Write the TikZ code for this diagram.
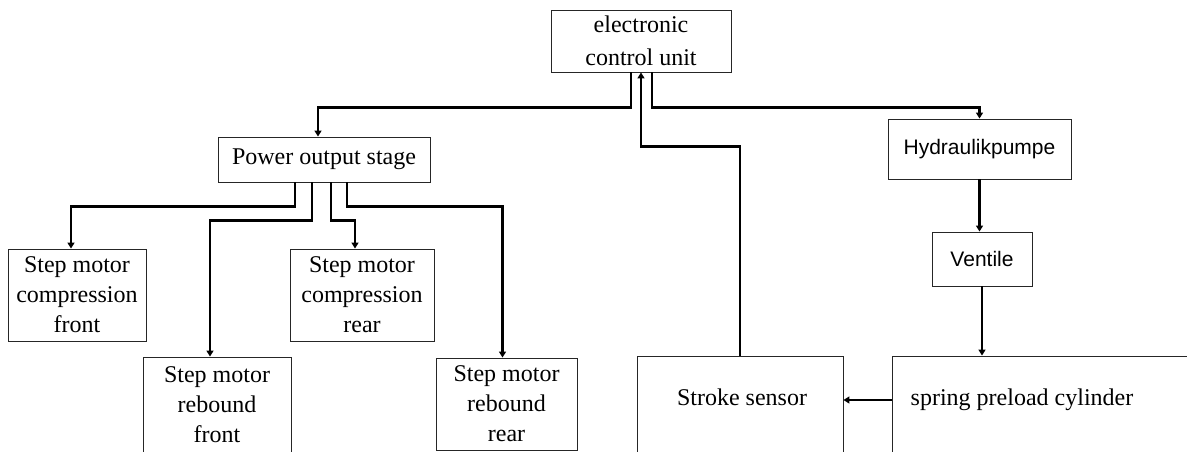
\documentclass[tikz,border=0pt]{standalone}
\usepackage{fontspec}
\setmainfont{Liberation Serif}
\newfontfamily\arialfont{Liberation Sans}
\usetikzlibrary{arrows.meta, positioning, calc}

\begin{document}
\begin{tikzpicture}[x=1pt, y=-1pt,
  blk_node/.style={rectangle, draw=black!85, line width=0.9pt, align=center, inner sep=3pt, font=\fontsize{24}{30}\selectfont},
  hyd_node/.style={blk_node, font=\arialfont\fontsize{21}{25}\selectfont},
  txt_node/.style={font=\fontsize{24}{30}\selectfont, inner sep=0pt, anchor=base},
  conn_line/.style={line width=2.3pt, -{Triangle[length=6pt, width=7pt]}},
]
  \useasboundingbox (0,0) rectangle (1187,451);
  \clip (0,0) rectangle (1187,451);
  % control unit and power stage
  \node[blk_node, font=\fontsize{24}{33}\selectfont, minimum width=180pt, minimum height=62pt] (ecu) at (641,41) {electronic\\control unit};
  \node[blk_node, minimum width=212pt, minimum height=45pt] (pos) at (324,159.5) {Power output stage};
  % step motors
  \node[blk_node, minimum width=138pt, minimum height=92pt] (cf) at (77,295) {Step motor\\compression\\front};
  \node[blk_node, minimum width=144pt, minimum height=92pt] (cr) at (362,295) {Step motor\\compression\\rear};
  \node[blk_node, minimum width=148pt, minimum height=96pt] (rf) at (217,405) {Step motor\\rebound\\front};
  \node[blk_node, minimum width=141pt, minimum height=92pt] (rr) at (506.5,404) {Step motor\\rebound\\rear};
  % hydraulic side
  \node[hyd_node, minimum width=183pt, minimum height=60pt] (hyd) at (979.5,149) {Hydraulikpumpe};
  \node[hyd_node, minimum width=100pt, minimum height=54pt] (vent) at (982,259) {Ventile};
  \node[blk_node, minimum width=206pt, minimum height=120pt] (stroke) at (740,416) {};
  \node[blk_node, minimum width=340pt, minimum height=120pt] (spring) at (1062,416) {};
  \node[txt_node] (stroke_lbl) at (742,405) {Stroke sensor};
  \node[txt_node] (spring_lbl) at (1022,405) {spring preload cylinder};

  \draw[conn_line] ([xshift=-10pt]ecu.south) -- ++(0,35) -| ([xshift=-6pt]pos.north);
  \draw[conn_line] ([xshift=11pt]ecu.south) -- ++(0,35) -| (hyd.north);
  \draw[conn_line] (stroke.north) -- ++(0,-209) -| (ecu.south);

  \draw[conn_line] ([xshift=-29pt]pos.south) -- ++(0,24) -| ([xshift=-6pt]cf.north);
  \draw[conn_line] ([xshift=-12pt]pos.south) -- ++(0,38) -| ([xshift=-7pt]rf.north);
  \draw[conn_line] ([xshift=7pt]pos.south) -- ++(0,38) -| ([xshift=-7pt]cr.north);
  \draw[conn_line] ([xshift=23pt]pos.south) -- ++(0,24) -| ([xshift=-4pt]rr.north);

  \draw[conn_line] (hyd.south) -- (hyd.south |- vent.north);
  \draw[conn_line] (vent.south) -- (vent.south |- spring.north);
  \draw[conn_line] ([yshift=16pt]spring.west) -- ([yshift=16pt]stroke.east);
\end{tikzpicture}
\end{document}
